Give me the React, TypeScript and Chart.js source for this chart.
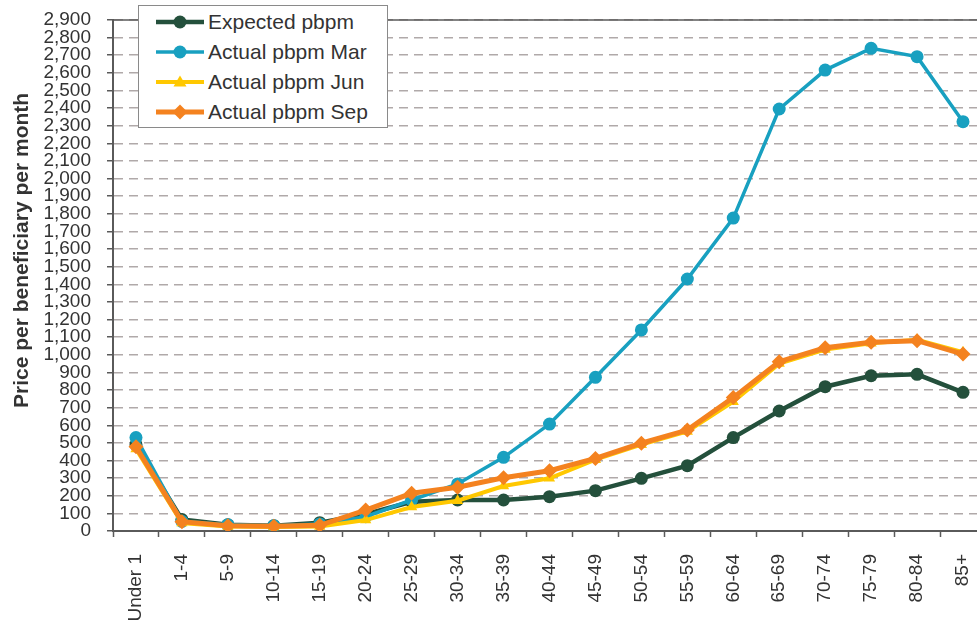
import React, { useEffect, useRef } from "react";
import { Chart, registerables } from "chart.js";

Chart.register(...registerables);

const categories = ["Under 1", "1-4", "5-9", "10-14", "15-19", "20-24", "25-29", "30-34", "35-39", "40-44", "45-49", "50-54", "55-59", "60-64", "65-69", "70-74", "75-79", "80-84", "85+"];
const expectedPbpm = [490, 65, 35, 30, 47, 95, 166, 176, 176, 195, 229, 299, 371, 530, 681, 819, 881, 889, 787];
const actualMar = [530, 55, 36, 30, 40, 81, 176, 267, 418, 607, 872, 1141, 1430, 1776, 2395, 2616, 2739, 2692, 2323];
const actualJun = [465, 45, 25, 22, 25, 62, 136, 172, 255, 299, 405, 490, 565, 734, 950, 1030, 1065, 1085, 1015];
const actualSep = [478, 53, 30, 27, 32, 119, 214, 248, 302, 342, 412, 498, 573, 757, 961, 1040, 1071, 1080, 1004];
const yMin = 0;
const yMax = 2900;
const yStep = 100;
const yTitle = "Price per beneficiary per month";

const FONT = "'Liberation Sans', Arial, Helvetica, sans-serif";
const C_EXP = "#24503c";
const C_MAR = "#18a0c0";
const C_JUN = "#ffc800";
const C_SEP = "#f4821f";

const series = [
  { label: "Expected pbpm", data: expectedPbpm, color: C_EXP, style: "circle", radius: 6.5, width: 4.5, order: 3 },
  { label: "Actual pbpm Mar", data: actualMar, color: C_MAR, style: "circle", radius: 6.5, width: 3.5, order: 2 },
  { label: "Actual pbpm Jun", data: actualJun, color: C_JUN, style: "triangle", radius: 6.5, width: 4, order: 1 },
  { label: "Actual pbpm Sep", data: actualSep, color: C_SEP, style: "rectRot", radius: 7.5, width: 5, order: 0 },
];

const topLinePlugin = {
  id: "topLine",
  beforeDatasetsDraw(chart: any) {
    const { ctx, chartArea } = chart;
    ctx.save();
    ctx.strokeStyle = "#5a5a5a";
    ctx.lineWidth = 1.5;
    ctx.beginPath();
    ctx.moveTo(chartArea.left, chartArea.top);
    ctx.lineTo(chartArea.right, chartArea.top);
    ctx.stroke();
    ctx.restore();
  },
};

const yTitlePlugin = {
  id: "yTitle",
  afterDraw(chart: any) {
    const { ctx } = chart;
    ctx.save();
    ctx.translate(22, 408);
    ctx.rotate(-Math.PI / 2);
    ctx.font = `bold 21px ${FONT}`;
    ctx.fillStyle = "#333333";
    ctx.textAlign = "left";
    ctx.textBaseline = "middle";
    ctx.fillText(yTitle, 0, 0);
    ctx.restore();
  },
};

function LegendMarker({ style, color }: { style: string; color: string }) {
  if (style === "circle") return <circle cx={24} cy={10} r={6.5} fill={color} />;
  if (style === "triangle") return <polygon points="24,3.5 30.5,14.5 17.5,14.5" fill={color} />;
  return <polygon points="24,2.5 31.5,10 24,17.5 16.5,10" fill={color} />;
}

export default function App() {
  const ref = useRef<HTMLCanvasElement | null>(null);

  useEffect(() => {
    document.body.style.margin = "0";
    document.body.style.overflow = "hidden";
    const canvas = ref.current;
    if (!canvas) return;
    const chart = new Chart(canvas, {
      type: "line",
      data: {
        labels: categories,
        datasets: series.map((s) => ({
          label: s.label,
          data: s.data,
          borderColor: s.color,
          backgroundColor: s.color,
          pointBackgroundColor: s.color,
          pointBorderColor: s.color,
          pointBorderWidth: 0,
          pointStyle: s.style as any,
          pointRadius: s.radius,
          borderWidth: s.width,
          tension: 0,
          order: s.order,
          fill: false,
        })),
      },
      options: {
        responsive: false,
        animation: false,
        devicePixelRatio: 1,
        layout: { padding: { top: 20, right: 0, left: 0, bottom: 0 } },
        plugins: { legend: { display: false }, tooltip: { enabled: false } },
        scales: {
          x: {
            type: "category",
            offset: true,
            grid: {
              display: true,
              drawOnChartArea: false,
              drawTicks: true,
              offset: true,
              tickLength: 6,
              tickColor: "#5a5a5a",
              tickWidth: 1.5,
            },
            border: { display: true, color: "#5a5a5a", width: 2 },
            ticks: {
              autoSkip: false,
              minRotation: 90,
              maxRotation: 90,
              padding: 17,
              color: "#333333",
              font: { family: FONT, size: 19 },
            },
            afterFit(scale: any) {
              scale.height = 91;
            },
          },
          y: {
            min: yMin,
            max: yMax,
            grid: {
              color: "#b0a9a9",
              lineWidth: 1.5,
              drawTicks: true,
              tickLength: 6,
              tickColor: "#5a5a5a",
              tickWidth: 1.5,
              tickBorderDash: [],
            } as any,
            border: { display: true, color: "#5a5a5a", width: 2, dash: [9, 6] },
            ticks: {
              stepSize: yStep,
              autoSkip: false,
              padding: 16,
              color: "#333333",
              font: { family: FONT, size: 19 },
            },
            title: { display: false },
            afterFit(scale: any) {
              scale.width = 113;
              scale.paddingTop = 0;
              scale.paddingBottom = 0;
            },
          },
        },
      },
      plugins: [topLinePlugin, yTitlePlugin],
    });
    return () => chart.destroy();
  }, []);

  return (
    <div style={{ position: "relative", width: 977, height: 622, overflow: "hidden", background: "#fff" }}>
      <canvas ref={ref} width={1003} height={622} style={{ display: "block", width: 1003, height: 622 }} />
      <div
        style={{
          position: "absolute",
          left: 138,
          top: 5,
          width: 250,
          height: 123,
          boxSizing: "border-box",
          border: "1.5px solid #8a8a8a",
          background: "#ffffff",
          fontFamily: FONT,
          fontSize: 21,
          color: "#333333",
          paddingTop: 1,
        }}
      >
        {series.map((s) => (
          <div key={s.label} style={{ display: "flex", alignItems: "center", height: 30, whiteSpace: "nowrap" }}>
            <svg width={48} height={20} style={{ marginLeft: 17, marginRight: 4, flex: "none" }}>
              <line x1={0} y1={10} x2={48} y2={10} stroke={s.color} strokeWidth={s.width} />
              <LegendMarker style={s.style} color={s.color} />
            </svg>
            <span style={{ lineHeight: "30px" }}>{s.label}</span>
          </div>
        ))}
      </div>
    </div>
  );
}
